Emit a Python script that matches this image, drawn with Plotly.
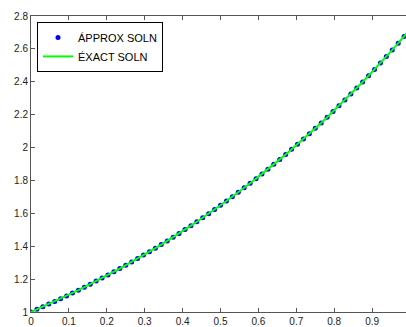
import plotly.graph_objects as go

x_vals = [0.0, 0.0156, 0.0313, 0.0469, 0.0625, 0.0781, 0.0938, 0.1094, 0.125, 0.1406,
          0.1563, 0.1719, 0.1875, 0.2031, 0.2188, 0.2344, 0.25, 0.2656, 0.2813, 0.2969,
          0.3125, 0.3281, 0.3438, 0.3594, 0.375, 0.3906, 0.4063, 0.4219, 0.4375, 0.4531,
          0.4688, 0.4844, 0.5, 0.5156, 0.5313, 0.5469, 0.5625, 0.5781, 0.5938, 0.6094,
          0.625, 0.6406, 0.6563, 0.6719, 0.6875, 0.7031, 0.7188, 0.7344, 0.75, 0.7656,
          0.7813, 0.7969, 0.8125, 0.8281, 0.8438, 0.8594, 0.875, 0.8906, 0.9063, 0.9219,
          0.9375, 0.9531, 0.9688, 0.9844, 1.0]
approx_y = [1.000, 1.016, 1.032, 1.048, 1.064, 1.081, 1.098, 1.116, 1.133, 1.151,
            1.169, 1.188, 1.206, 1.225, 1.245, 1.264, 1.284, 1.304, 1.325, 1.346,
            1.367, 1.388, 1.410, 1.432, 1.455, 1.478, 1.501, 1.525, 1.549, 1.573,
            1.598, 1.623, 1.649, 1.675, 1.701, 1.728, 1.755, 1.783, 1.811, 1.839,
            1.868, 1.898, 1.928, 1.958, 1.989, 2.020, 2.052, 2.084, 2.117, 2.150,
            2.184, 2.219, 2.254, 2.289, 2.325, 2.362, 2.399, 2.437, 2.475, 2.514,
            2.554, 2.594, 2.635, 2.676, 2.718]
exact_y = approx_y

x_ticks = [0, 0.1, 0.2, 0.3, 0.4, 0.5, 0.6, 0.7, 0.8, 0.9]
y_ticks = [1, 1.2, 1.4, 1.6, 1.8, 2, 2.2, 2.4, 2.6, 2.8]

fig = go.Figure()
fig.add_trace(go.Scatter(x=x_vals, y=approx_y, mode="markers", name="ÁPPROX SOLN",
                         marker=dict(color="#0000ff", size=5)))
fig.add_trace(go.Scatter(x=x_vals, y=exact_y, mode="lines", name="ÉXACT SOLN",
                         line=dict(color="#00ff00", width=2)))

axis_common = dict(showgrid=False, zeroline=False, showline=True, linecolor="#555555",
                   linewidth=1, ticks="inside", ticklen=4, tickcolor="#555555",
                   tickfont=dict(family="Liberation Sans", size=10, color="#222222"))

fig.update_layout(
    width=406, height=327,
    margin=dict(l=31, r=0, t=16, b=13),
    paper_bgcolor="white", plot_bgcolor="white",
    xaxis=dict(range=[0, 0.9894], tickvals=x_ticks, mirror="ticks", **axis_common),
    yaxis=dict(range=[1, 2.8], tickvals=y_ticks, mirror=False, **axis_common),
    legend=dict(x=0.016, y=0.98, xanchor="left", yanchor="top",
                bordercolor="black", borderwidth=1, bgcolor="white",
                font=dict(family="Liberation Sans", size=11, color="black"),
                tracegroupgap=0),
    showlegend=True,
)

fig.write_html("out.html")
